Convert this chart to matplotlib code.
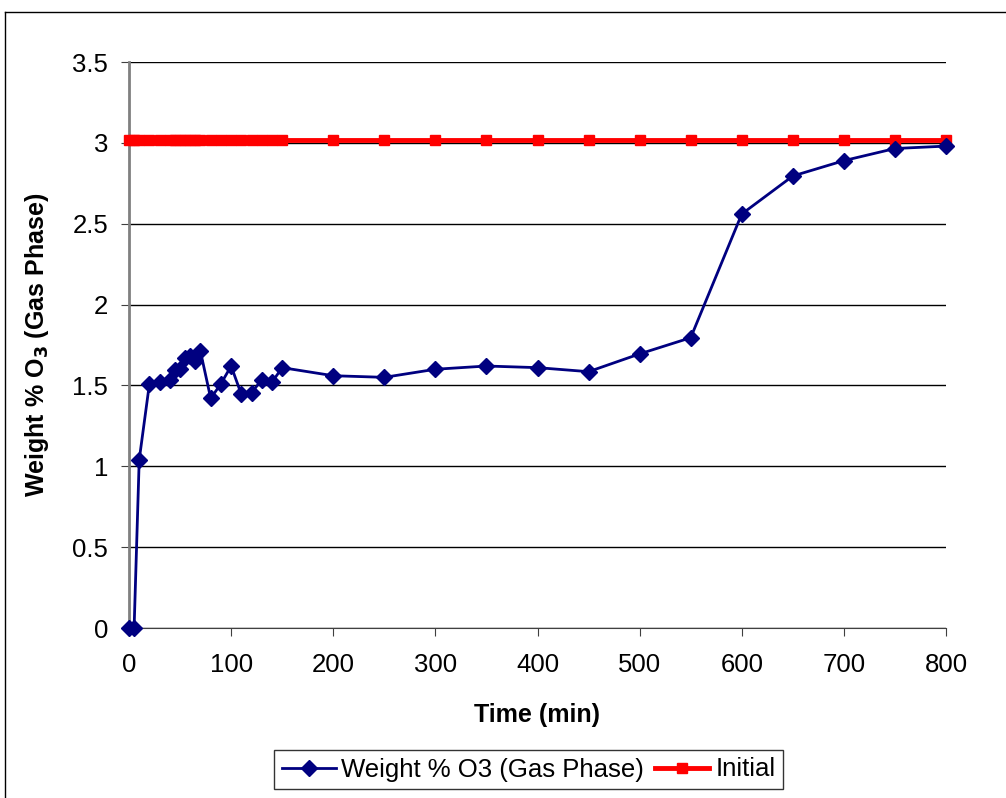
import numpy as np
import matplotlib.pyplot as plt
from matplotlib.lines import Line2D

plt.rcParams['font.family'] = ['Liberation Sans', 'DejaVu Sans']

# time (min)
time = [0, 5, 10, 20, 30, 40, 45, 50, 55, 60, 65, 70, 80, 90, 100, 110, 120,
        130, 140, 150, 200, 250, 300, 350, 400, 450, 500, 550, 600, 650, 700,
        750, 800]
# weight % O3 in gas phase
o3 = [0, 0, 1.04, 1.51, 1.52, 1.535, 1.595, 1.60, 1.67, 1.685, 1.65, 1.71,
      1.42, 1.51, 1.62, 1.445, 1.455, 1.535, 1.52, 1.61, 1.56, 1.55, 1.60,
      1.62, 1.61, 1.585, 1.695, 1.795, 2.56, 2.795, 2.89, 2.965, 2.98]
initial = [3.015] * len(time)

yticks = [0, 0.5, 1, 1.5, 2, 2.5, 3, 3.5]
xticks = [0, 100, 200, 300, 400, 500, 600, 700, 800]

fig = plt.figure(figsize=(10.06, 7.98), dpi=100)
ax = fig.add_axes([129 / 1006, 1 - 628 / 798, (946 - 129) / 1006, (628 - 62) / 798])

ax.plot(time, o3, color='#000080', lw=2, marker='D', ms=8.5,
        label='Weight % O3 (Gas Phase)', clip_on=False, zorder=4)
ax.plot(time, initial, color='#ff0000', lw=3.5, marker='s', ms=6.5,
        label='Initial', clip_on=False, zorder=3)

ax.set_xlim(0, 800)
ax.set_ylim(0, 3.5)
ax.set_xticks(xticks)
ax.set_yticks(yticks)
ax.set_yticklabels([f'{v:g}' for v in yticks])
ax.grid(axis='y', color='black', lw=1)
ax.set_axisbelow(True)
for s in ['top', 'right']:
    ax.spines[s].set_visible(False)
ax.spines['left'].set_color('#808080')
ax.spines['left'].set_linewidth(2)
ax.spines['bottom'].set_color('#404040')
ax.tick_params(labelsize=18.5, length=6, color='#404040')
ax.tick_params(axis='y', pad=9)
ax.tick_params(axis='x', pad=12)

ax.set_xlabel('Time (min)', fontsize=18, fontweight='bold', labelpad=19)
ax.set_ylabel('Weight % O$_\\mathbf{3}$ (Gas Phase)', fontsize=18,
              fontweight='bold', labelpad=15)

leg = ax.legend(loc='center', bbox_to_anchor=(528.5 / 1006, 1 - 769.5 / 798),
                bbox_transform=fig.transFigure, ncol=2, fontsize=18.5,
                frameon=True, fancybox=False, edgecolor='black',
                handlelength=2.1, columnspacing=0.43, handletextpad=0.23,
                borderpad=0.3, borderaxespad=0)
leg.get_frame().set_linewidth(1)

# outer chart border
fig.add_artist(Line2D([5 / 1006, 5 / 1006], [0, 1 - 12 / 798], color='black', lw=1))
fig.add_artist(Line2D([5 / 1006, 1], [1 - 12 / 798, 1 - 12 / 798], color='black', lw=1))

fig.savefig('out.png', dpi=100)
